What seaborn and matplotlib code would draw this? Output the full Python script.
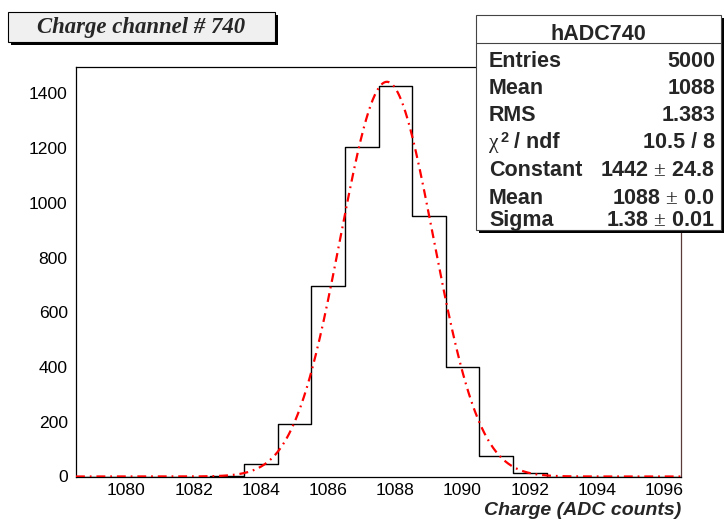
import numpy as np
import pandas as pd
import matplotlib
matplotlib.use("Agg")
import matplotlib.pyplot as plt
from matplotlib.patches import Rectangle
from matplotlib.lines import Line2D
from matplotlib.ticker import MultipleLocator
import seaborn as sns

# Histogram contents (unit-wide bins centred on integer ADC values)
bin_centers = [1083, 1084, 1085, 1086, 1087, 1088, 1089, 1090, 1091, 1092]
bin_counts = [1, 45, 191, 695, 1203, 1426, 952, 399, 76, 12]
x_limits = (1078.5, 1096.5)
y_max = 1496

# Statistics / fit results shown in the stats box
hist_name = "hADC740"
title_text = "Charge channel # 740"
x_title = "Charge (ADC counts)"
entries = 5000
stat_mean = 1088
stat_rms = 1.383
chi2, ndf = 10.5, 8
fit_constant, fit_constant_err = 1442, 24.8
fit_mean, fit_mean_err = 1087.75, 0.0
fit_sigma, fit_sigma_err = 1.38, 0.01

W, H = 725, 520
sns.set_style("white")
plt.rcParams["font.family"] = ["Liberation Sans", "DejaVu Sans"]
plt.rcParams["mathtext.fontset"] = "custom"
plt.rcParams["mathtext.rm"] = "Liberation Serif"
plt.rcParams["mathtext.it"] = "Liberation Serif:italic"

fig = plt.figure(figsize=(W / 100, H / 100), dpi=100)
fig.patch.set_facecolor("white")


def fx(px):
    return px / W


def fy(py):
    return 1 - py / H


ax_l, ax_r, ax_t, ax_b = 76, 681, 67, 476.5
ax = fig.add_axes([fx(ax_l), fy(ax_b), (ax_r - ax_l) / W, (ax_b - ax_t) / H])
ax.set_facecolor("white")

hist_df = pd.DataFrame({"adc": bin_centers, "counts": bin_counts})
sns.histplot(data=hist_df, x="adc", weights="counts", binwidth=1.0,
             binrange=x_limits, element="step", fill=False, color="black",
             linewidth=1.0, ax=ax)

# Gaussian fit curve
xs = np.linspace(x_limits[0], x_limits[1], 800)
ys = fit_constant * np.exp(-0.5 * ((xs - fit_mean) / fit_sigma) ** 2)
sns.lineplot(x=xs, y=ys, color="#ff0000", linewidth=1.6, estimator=None,
             linestyle=(0, (4.0, 2.2, 0.8, 2.2)), ax=ax, zorder=3)

ax.set_xlim(*x_limits)
ax.set_ylim(0, y_max)
ax.set_xlabel("")
ax.set_ylabel("")

ax.xaxis.set_major_locator(MultipleLocator(2))
ax.xaxis.set_minor_locator(MultipleLocator(0.5))
ax.yaxis.set_major_locator(MultipleLocator(200))
ax.yaxis.set_minor_locator(MultipleLocator(50))
ax.tick_params(axis="x", which="major", direction="in", length=9, width=0.8,
               labelsize=12.6, pad=5, colors="black")
ax.tick_params(axis="x", which="minor", direction="in", length=4.5, width=0.8)
ax.tick_params(axis="y", which="major", direction="in", length=13, width=0.8,
               labelsize=12.6, pad=6, colors="black")
ax.tick_params(axis="y", which="minor", direction="in", length=6.5, width=0.8)
ax.tick_params(top=False, right=False, which="both")

for side, sp in ax.spines.items():
    sp.set_visible(True)
    sp.set_linewidth(0.9)
    sp.set_color("black")
ax.spines["right"].set_color("#5b3a3a")

# Axis title, right-aligned at the end of the x axis
fig.text(fx(681), fy(515), x_title, ha="right", va="baseline",
         fontsize=14, fontweight="bold", style="italic")

# Title box with drop shadow
tb = (8, 12, 275, 42)
fig.patches.append(Rectangle((fx(tb[0] + 3), fy(tb[3] + 3)), (tb[2] - tb[0]) / W,
                             (tb[3] - tb[1]) / H, transform=fig.transFigure,
                             facecolor="black", edgecolor="none", zorder=5))
fig.patches.append(Rectangle((fx(tb[0]), fy(tb[3])), (tb[2] - tb[0]) / W,
                             (tb[3] - tb[1]) / H, transform=fig.transFigure,
                             facecolor="#f0f0f0", edgecolor="black", linewidth=0.8,
                             zorder=6))
fig.text(fx((tb[0] + tb[2]) / 2), fy(28), title_text, ha="center", va="center",
         fontsize=16.4, fontweight="bold", style="italic",
         family=["Liberation Serif", "DejaVu Serif"], zorder=7)

# Statistics box with drop shadow
sb = (476, 15, 721, 230)
fig.patches.append(Rectangle((fx(sb[0] + 3), fy(sb[3] + 3)), (sb[2] - sb[0]) / W,
                             (sb[3] - sb[1]) / H, transform=fig.transFigure,
                             facecolor="black", edgecolor="none", zorder=5))
fig.patches.append(Rectangle((fx(sb[0]), fy(sb[3])), (sb[2] - sb[0]) / W,
                             (sb[3] - sb[1]) / H, transform=fig.transFigure,
                             facecolor="white", edgecolor="#444444", linewidth=0.8,
                             zorder=6))
fig.lines.append(Line2D([fx(sb[0]), fx(sb[2])], [fy(43.3), fy(43.3)],
                        transform=fig.transFigure, color="#444444", linewidth=0.8,
                        zorder=7))

stat_font = dict(fontsize=15.5, fontweight="bold", zorder=8)
fig.text(fx((sb[0] + sb[2]) / 2), fy(40.5), hist_name, ha="center", va="baseline",
         **stat_font)

rows = [
    ("Entries", f"{entries}", 67),
    ("Mean", f"{stat_mean}", 93.5),
    ("RMS", f"{stat_rms:.3f}", 121),
    (None, f"{chi2:.1f} / {ndf}", 148),
    ("Constant", f"{fit_constant} $\\pm$ {fit_constant_err:.1f}", 176.5),
    ("Mean", f"{fit_mean:.0f} $\\pm$ {fit_mean_err:.1f}", 204),
    ("Sigma", f"{fit_sigma:.2f} $\\pm$ {fit_sigma_err:.2f}", 226),
]
for name, value, base in rows:
    if name is None:
        # upright chi in a serif face, then a bold superscript and the label
        fig.text(fx(489), fy(base), "χ", ha="left", va="baseline", fontsize=15.5,
                 family=["Liberation Serif", "DejaVu Serif"], zorder=8)
        fig.text(fx(500), fy(base - 6), "2", ha="left", va="baseline",
                 fontsize=10.5, fontweight="bold", zorder=8)
        fig.text(fx(514), fy(base), "/ ndf", ha="left", va="baseline", **stat_font)
    else:
        fig.text(fx(489), fy(base), name, ha="left", va="baseline", **stat_font)
    fig.text(fx(715), fy(base), value, ha="right", va="baseline", **stat_font)

fig.savefig("out.png", dpi=100, facecolor="white")
